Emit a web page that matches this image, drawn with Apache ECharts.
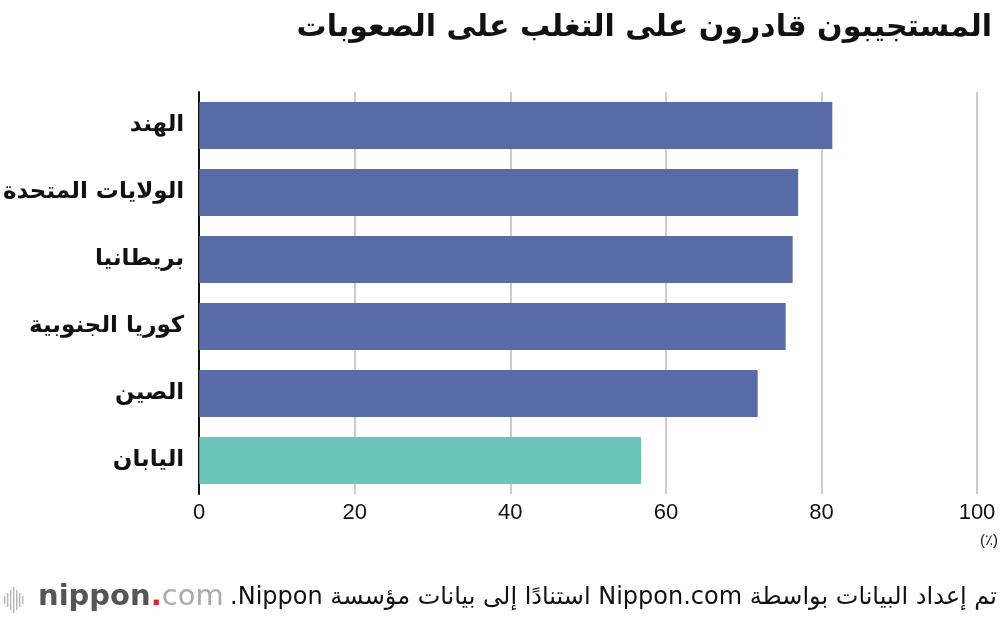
<!DOCTYPE html>
<html>
<head>
<meta charset="utf-8">
<script src="https://cdn.jsdelivr.net/npm/echarts@6/dist/echarts.min.js"></script>
<style>
  html, body { margin: 0; padding: 0; background: #fff; }
  #main { width: 1000px; height: 622px; }
</style>
</head>
<body>
<div id="main"></div>
<script>
// data
const countries = ['الهند', 'الولايات المتحدة', 'بريطانيا', 'كوريا الجنوبية', 'الصين', 'اليابان'];
const values = [81.4, 77.0, 76.3, 75.4, 71.8, 56.8];
const highlight = 'اليابان';
const xTicks = [0, 20, 40, 60, 80, 100];

const titleText = 'المستجيبون قادرون على التغلب على الصعوبات';
const sourceText = 'تم إعداد البيانات بواسطة Nippon.com استنادًا إلى بيانات مؤسسة Nippon.';

const arFont = '"DejaVu Sans", sans-serif';
const numFont = '"Liberation Sans", Arial, sans-serif';

let myChart = echarts.init(document.getElementById('main'), null, { renderer: 'canvas' });

// little bar icon of the logo
let iconBars = [];
[8, 14, 20, 26, 20, 14, 8].forEach(function (h, i) {
  iconBars.push({
    type: 'rect',
    shape: { x: 4 + i * 3, y: 600 - h / 2, width: 1.4, height: h },
    style: { fill: '#b5b5b5' }
  });
});

let option = {
  backgroundColor: '#fff',
  animation: false,
  title: {
    text: '\u202B' + titleText + '\u202C',
    right: 3,
    top: 8,
    textStyle: { fontFamily: arFont, fontSize: 30, fontWeight: 'bold', color: '#111' }
  },
  grid: { left: 198, right: 23, top: 92, height: 402, containLabel: false },
  xAxis: {
    type: 'value',
    min: 0,
    max: 100,
    interval: 20,
    axisLine: { show: false },
    axisTick: { show: false },
    splitLine: { lineStyle: { color: '#cccccc', width: 2 } },
    axisLabel: {
      margin: 8,
      fontFamily: numFont,
      fontSize: 22,
      color: '#111',
      formatter: function (v) { return xTicks.indexOf(v) >= 0 ? String(v) : ''; }
    }
  },
  yAxis: {
    type: 'category',
    inverse: true,
    data: countries,
    axisLine: { show: true, lineStyle: { color: '#111', width: 2 } },
    axisTick: { show: false },
    axisLabel: {
      margin: 15,
      fontFamily: arFont,
      fontSize: 23,
      fontWeight: 'bold',
      color: '#111'
    }
  },
  series: [
    {
      type: 'bar',
      data: values.map(function (v, i) {
        return {
          value: v,
          itemStyle: { color: countries[i] === highlight ? '#6bc6b9' : '#586ba6' }
        };
      }),
      barCategoryGap: '30%',
      z: 3
    }
  ],
  graphic: [
    {
      type: 'text',
      right: 2,
      top: 533,
      style: { text: '(٪)', font: '15px ' + numFont, fill: '#111' }
    },
    {
      type: 'text',
      right: 3,
      top: 586,
      style: { text: '\u202B' + sourceText + '\u202C', font: '24px ' + arFont, fill: '#111' }
    },
    {
      type: 'text',
      left: 38,
      top: 583,
      style: {
        text: '{a|nippon}{b|.}{c|com}',
        rich: {
          a: { fontFamily: arFont, fontSize: 29, fontWeight: 'bold', fill: '#555' },
          b: { fontFamily: arFont, fontSize: 29, fontWeight: 'bold', fill: '#d7262b' },
          c: { fontFamily: arFont, fontSize: 29, fill: '#aaa' }
        }
      }
    }
  ].concat(iconBars)
};

myChart.setOption(option);
</script>
</body>
</html>
